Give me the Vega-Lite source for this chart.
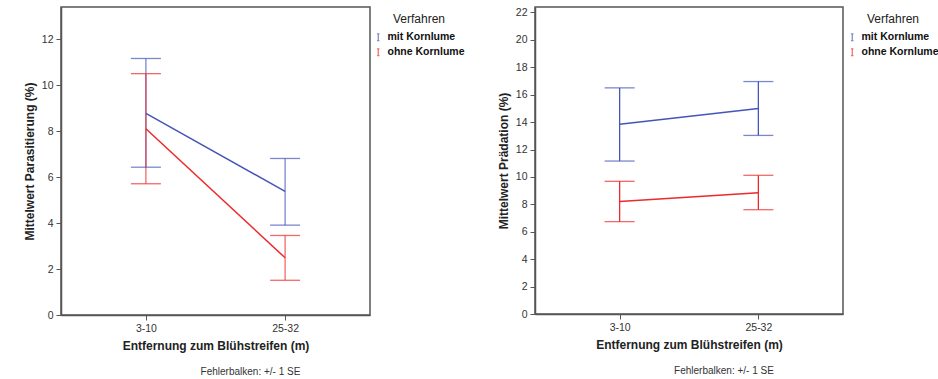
{
  "$schema": "https://vega.github.io/schema/vega-lite/v6.json",
  "padding": {"left": 22, "top": 6, "right": 5, "bottom": 2},
  "background": "white",
  "config": {
    "font": "Liberation Sans",
    "view": {"stroke": "#555", "strokeWidth": 1.5},
    "axis": {"grid": false, "domainColor": "#555", "domainWidth": 1.5, "tickColor": "#555", "tickSize": 5, "labelFontSize": 10.5, "labelColor": "#333", "labelOverlap": false, "titleFontSize": 12, "titleFontWeight": "bold", "titleColor": "#222"},
    "legend": {"titleFontSize": 12, "titleFontWeight": "normal", "titleColor": "#222", "labelFontSize": 10.5, "labelFontWeight": "bold", "labelColor": "#111", "symbolType": "M-0.35,-1H0.35M0,-1V1M-0.35,1H0.35", "symbolSize": 45, "symbolStrokeWidth": 1.2, "rowPadding": 2, "titleAnchor": "middle", "titlePadding": 6}
  },
  "datasets": {
    "left": [
      {"dist": "3-10", "Verfahren": "mit Kornlume", "mean": 8.77, "lower": 6.43, "upper": 11.16},
      {"dist": "25-32", "Verfahren": "mit Kornlume", "mean": 5.38, "lower": 3.91, "upper": 6.81},
      {"dist": "3-10", "Verfahren": "ohne Kornlume", "mean": 8.1, "lower": 5.71, "upper": 10.5},
      {"dist": "25-32", "Verfahren": "ohne Kornlume", "mean": 2.49, "lower": 1.51, "upper": 3.46}
    ],
    "right": [
      {"dist": "3-10", "Verfahren": "mit Kornlume", "mean": 13.85, "lower": 11.16, "upper": 16.5},
      {"dist": "25-32", "Verfahren": "mit Kornlume", "mean": 15.0, "lower": 13.03, "upper": 16.96},
      {"dist": "3-10", "Verfahren": "ohne Kornlume", "mean": 8.2, "lower": 6.74, "upper": 9.68},
      {"dist": "25-32", "Verfahren": "ohne Kornlume", "mean": 8.85, "lower": 7.61, "upper": 10.12}
    ]
  },
  "spacing": 30,
  "resolve": {"scale": {"color": "independent", "y": "independent"}, "legend": {"color": "independent"}},
  "hconcat": [
    {
      "width": 309,
      "height": 308,
      "data": {"name": "left"},
      "title": {"text": "Fehlerbalken: +/- 1 SE", "orient": "bottom", "anchor": "middle", "fontSize": 10, "fontWeight": "normal", "color": "#333", "dx": 35, "offset": 15},
      "encoding": {
        "x": {"field": "dist", "type": "ordinal", "sort": ["3-10", "25-32"], "scale": {"type": "point", "padding": 0.61}, "axis": {"title": "Entfernung zum Blühstreifen (m)", "labelAngle": 0, "labelPadding": 3, "titlePadding": 7}},
        "color": {"field": "Verfahren", "type": "nominal", "scale": {"domain": ["mit Kornlume", "ohne Kornlume"], "range": ["#4455b8", "#ec2a2a"]}, "legend": {"orient": "none", "legendX": 312, "legendY": 7}}
      },
      "layer": [
        {"mark": {"type": "rule", "strokeWidth": 1.3, "opacity": 0.7}, "encoding": {"y": {"field": "lower", "type": "quantitative", "scale": {"domain": [0, 13.4], "nice": false}, "axis": {"title": "Mittelwert Parasitierung (%)", "values": [0, 2, 4, 6, 8, 10, 12], "tickCount": 20, "format": "d", "labelOverlap": false, "labelPadding": 3, "titlePadding": 5}}, "y2": {"field": "upper"}}},
        {"mark": {"type": "tick", "size": 30, "thickness": 1.3, "opacity": 0.7}, "encoding": {"y": {"field": "lower", "type": "quantitative"}}},
        {"mark": {"type": "tick", "size": 30, "thickness": 1.3, "opacity": 0.7}, "encoding": {"y": {"field": "upper", "type": "quantitative"}}},
        {"mark": {"type": "line", "strokeWidth": 1.5}, "encoding": {"y": {"field": "mean", "type": "quantitative"}}}
      ]
    },
    {
      "width": 308,
      "height": 307,
      "data": {"name": "right"},
      "title": {"text": "Fehlerbalken: +/- 1 SE", "orient": "bottom", "anchor": "middle", "fontSize": 10, "fontWeight": "normal", "color": "#333", "dx": 35, "offset": 15},
      "encoding": {
        "x": {"field": "dist", "type": "ordinal", "sort": ["3-10", "25-32"], "scale": {"type": "point", "padding": 0.61}, "axis": {"title": "Entfernung zum Blühstreifen (m)", "labelAngle": 0, "labelPadding": 3, "titlePadding": 7}},
        "color": {"field": "Verfahren", "type": "nominal", "scale": {"domain": ["mit Kornlume", "ohne Kornlume"], "range": ["#4455b8", "#ec2a2a"]}, "legend": {"orient": "none", "legendX": 312, "legendY": 7}}
      },
      "layer": [
        {"mark": {"type": "rule", "strokeWidth": 1.3}, "encoding": {"y": {"field": "lower", "type": "quantitative", "scale": {"domain": [0, 22.4], "nice": false}, "axis": {"title": "Mittelwert Prädation (%)", "values": [0, 2, 4, 6, 8, 10, 12, 14, 16, 18, 20, 22], "tickCount": 20, "format": "d", "labelOverlap": false, "labelPadding": 3, "titlePadding": 5}}, "y2": {"field": "upper"}}},
        {"mark": {"type": "tick", "size": 30, "thickness": 1.3}, "encoding": {"y": {"field": "lower", "type": "quantitative"}}},
        {"mark": {"type": "tick", "size": 30, "thickness": 1.3}, "encoding": {"y": {"field": "upper", "type": "quantitative"}}},
        {"mark": {"type": "line", "strokeWidth": 1.5}, "encoding": {"y": {"field": "mean", "type": "quantitative"}}}
      ]
    }
  ]
}
